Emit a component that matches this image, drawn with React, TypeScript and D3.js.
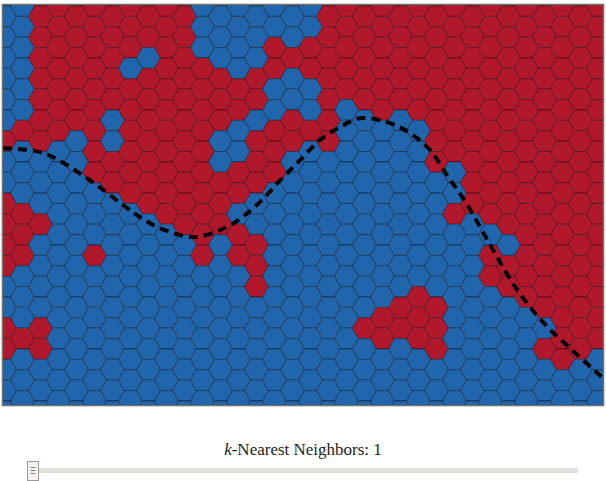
import * as d3 from "d3";

// k-NN classification of each hex cell, one string per column (top to bottom), R = red, B = blue
const cellColumns = [
  "BBBBBBRBBRRRRBBRRBBB",
  "BBBBBBRBBBRRRBBBRBBB",
  "RRRRRRRBBBRBBBBRRBBB",
  "RRRRRRRBBBBBBBBBBBBB",
  "RRRRRRBBBBBBBBBBBBBB",
  "RRRRRRRRRBBBRBBBBBBB",
  "RRRRRBBRRBBBBBBBBBBB",
  "RRRBRRRRRRBBBBBBBBBB",
  "RRBRRRRRRRBBBBBBBBBB",
  "RRRRRRRRRRRBBBBBBBBB",
  "RRRRRRRRRRRBBBBBBBBB",
  "BBBRRRRRRRRRRBBBBBBB",
  "BBBRRRBBRRRBBBBBBBBB",
  "BBBBRRBBRRBRRBBBBBBB",
  "BBBRRBRRRBBRRRBBBBBB",
  "BBRRBBRRRBBBBBBBBBBB",
  "BBRBBRRBBBBBBBBBBBBB",
  "BBRRBBRBBBBBBBBBBBBB",
  "RRRRRRRBBBBBBBBBBBBB",
  "RRRRRBBBBBBBBBBBBBBB",
  "RRRRRBBBBBBBBBBRBBBB",
  "RRRRRRBBBBBBBBBRRBBB",
  "RRRRRBBBBBBBBBRRBBBB",
  "RRRRRRBBBBBBBBRRRBBB",
  "RRRRRRRRBBBBBBRRRBBB",
  "RRRRRRRRBBRBBBBBBBBB",
  "RRRRRRRRRRBBBBBBBBBB",
  "RRRRRRRRRRRBRRBBBBBB",
  "RRRRRRRRRRRBRRBBBBBB",
  "RRRRRRRRRRRRRRRBBBBB",
  "RRRRRRRRRRRRRRRBRBBB",
  "RRRRRRRRRRRRRRRRRRBB",
  "RRRRRRRRRRRRRRRRRBBB",
  "RRRRRRRRRRRRRRRRRBBB",
];

// true class boundary (dashed), in unit coordinates of the plot
const boundaryX = [0, 0.067, 0.14, 0.2, 0.228, 0.262, 0.317, 0.373, 0.423, 0.462, 0.495, 0.528, 0.562, 0.595, 0.64, 0.678, 0.712, 0.742, 0.772, 0.812, 0.855, 0.9, 0.945, 1];
const boundaryY = [0.358, 0.37, 0.433, 0.5, 0.53, 0.558, 0.58, 0.555, 0.5, 0.438, 0.388, 0.338, 0.305, 0.283, 0.293, 0.32, 0.363, 0.43, 0.495, 0.6, 0.708, 0.793, 0.858, 0.933];

const kValue = 1;

const colors: Record<string, string> = { R: "#b2182b", B: "#2166ac" };

const plot = { left: 3, top: 5, width: 600, height: 400 };
const radius = 12;
const rowStep = radius * Math.sqrt(3);

export default function App() {
  const nCols = cellColumns.length;
  const colX = d3
    .scaleLinear()
    .domain([0, nCols - 1])
    .range([1.5, 1.5 + radius * 1.5 * (nCols - 1)]);
  const rowY = d3
    .scaleLinear()
    .domain([0, 1])
    .range([0, rowStep]);
  const offset = (c: number) => (c % 2 ? 1 : 11.4);

  const hexPath =
    d3
      .range(6)
      .map((i) => {
        const a = (Math.PI / 3) * i;
        return `${i ? "L" : "M"}${(radius * Math.cos(a)).toFixed(2)},${(radius * Math.sin(a)).toFixed(2)}`;
      })
      .join("") + "Z";

  const cells: { x: number; y: number; c: string }[] = [];
  cellColumns.forEach((col, c) => {
    for (let k = -1; k <= col.length; k++) {
      const kk = Math.max(0, Math.min(col.length - 1, k));
      cells.push({ x: colX(c), y: offset(c) + rowY(k), c: col[kk] });
    }
  });

  const x = d3.scaleLinear().domain([0, 1]).range([0, plot.width]);
  const y = d3.scaleLinear().domain([0, 1]).range([0, plot.height]);
  const line = d3
    .line<number>()
    .x((_, i) => x(boundaryX[i]))
    .y((_, i) => y(boundaryY[i]))
    .curve(d3.curveCatmullRom.alpha(0.5));

  return (
    <div style={{ position: "absolute", left: 0, top: 0 }}>
      <svg width={606} height={481} style={{ display: "block" }}>
        <defs>
          <clipPath id="plot-clip">
            <rect x={0} y={0} width={plot.width} height={plot.height} />
          </clipPath>
        </defs>
        <g transform={`translate(${plot.left},${plot.top})`}>
          <g clipPath="url(#plot-clip)">
            {cells.map((d, i) => (
              <path
                key={i}
                d={hexPath}
                transform={`translate(${d.x},${d.y})`}
                fill={colors[d.c]}
                stroke="#000"
                strokeOpacity={0.4}
                strokeWidth={1}
              />
            ))}
            <path
              d={line(boundaryX) || ""}
              fill="none"
              stroke="#000"
              strokeWidth={4}
              strokeDasharray="9,6"
            />
          </g>
          <rect
            x={-0.5}
            y={-0.5}
            width={plot.width + 1}
            height={plot.height + 1}
            fill="none"
            stroke="#6e6e6e"
            strokeWidth={1.5}
          />
        </g>

        <text
          x={303}
          y={455}
          textAnchor="middle"
          fontFamily="'Liberation Serif', 'DejaVu Serif', serif"
          fontSize={17}
          fill="#222"
        >
          <tspan fontStyle="italic">k</tspan>
          <tspan>-Nearest Neighbors: {kValue}</tspan>
        </text>

        <rect x={37} y={468} width={541} height={5} fill="#e3ded7" />
        <g transform="translate(27.5,461.5)">
          <rect width={11} height={19} fill="#f4f3f1" stroke="#a09a92" strokeWidth={1} />
          {[6, 9, 12].map((gy) => (
            <line key={gy} x1={3} x2={8} y1={gy} y2={gy} stroke="#8a847c" strokeWidth={1} />
          ))}
        </g>
      </svg>
    </div>
  );
}
